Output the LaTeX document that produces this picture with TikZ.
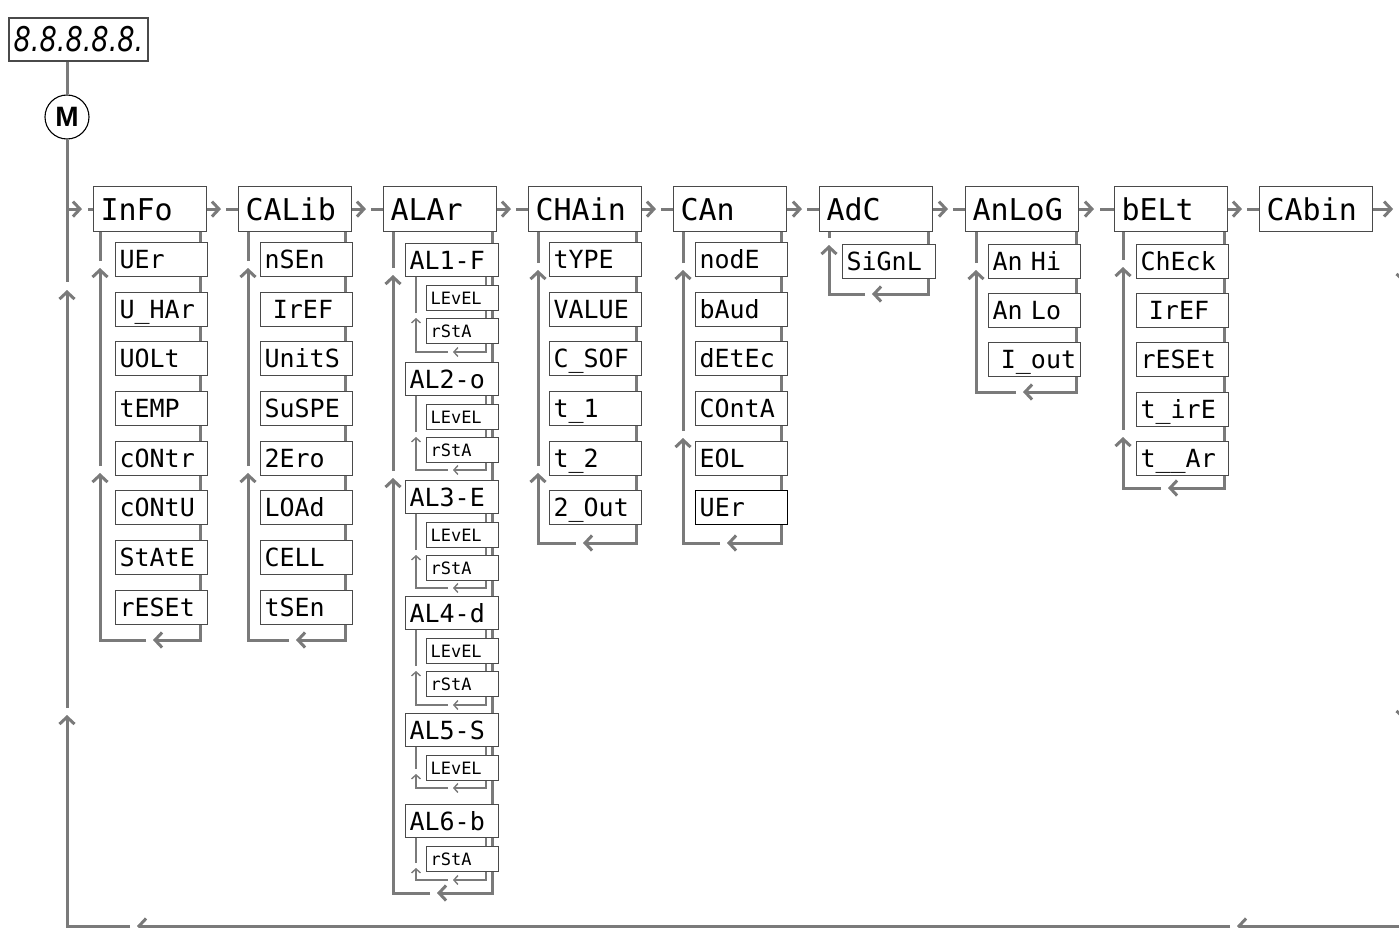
\documentclass[tikz,border=0pt]{standalone}
\usepackage{fontspec}
\usepackage{graphicx}
\usetikzlibrary{arrows.meta,positioning}
\newfontfamily\segfont{DejaVu Sans Mono}
\newfontfamily\dispfont{DejaVu Sans}
\newfontfamily\keyfont{Liberation Sans}
\definecolor{wiregray}{HTML}{7A7A7A}
\definecolor{framegray}{HTML}{4A4A4A}
\pgfdeclarelayer{back}
\pgfsetlayers{back,main}
\tikzset{flow/.style={-{Straight Barb[length=7pt,width=15pt]}, line width=3pt, color=wiregray}, link/.style={line width=3pt, color=wiregray}, tflow/.style={-{Straight Barb[length=4pt,width=9pt]}, line width=1.4pt, color=wiregray}, tlink/.style={line width=1.4pt, color=wiregray}, menu/.style={draw=framegray, line width=1.1pt, fill=white, anchor=north west, minimum height=45pt, text width=99pt, inner xsep=7pt, inner ysep=2pt, text height=22pt, text depth=0pt, align=left, font={\segfont\fontsize{30pt}{30pt}\selectfont}}, item/.style={menu, minimum height=34pt, text width=84pt, inner xsep=4pt, text height=18pt, font={\segfont\fontsize{25pt}{25pt}\selectfont}}, alitem/.style={item, minimum height=33pt, text width=85pt}, param/.style={item, minimum height=25pt, text width=64pt, text height=12.5pt, font={\segfont\fontsize{17pt}{17pt}\selectfont}}, picked/.style={item, draw=black, line width=1.4pt}}

\begin{document}
\begin{tikzpicture}[x=1pt,y=-1pt]
\useasboundingbox (0,0) rectangle (1399,928);
\node[draw=framegray, line width=1.1pt, minimum width=139pt, minimum height=43pt, inner sep=0pt, font={\dispfont\itshape\fontsize{34pt}{34pt}\selectfont}] (disp) at (78.5,39.5) {\scalebox{0.8}[1]{8.8.8.8.8.}};
\node[circle, draw=black, line width=1.1pt, minimum size=44pt, inner sep=0pt, font={\keyfont\bfseries\fontsize{28pt}{28pt}\selectfont}] (M) at (67,117) {M};
% main menu row
\node[menu] (info) at (93,186) {InFo};
\node[menu] (calib) at (238,186) {CALib};
\node[menu] (alar) at (383,186) {ALAr};
\node[menu] (chain) at (528,186) {CHAin};
\node[menu] (can) at (673,186) {CAn};
\node[menu] (adc) at (819,186) {AdC};
\node[menu] (analog) at (965,186) {AnLoG};
\node[menu] (belt) at (1114,186) {bELt};
\node[menu] (cabin) at (1259,186) {CAbin};
% InFo
\node[item] (info-1) at (115,242) {UEr};
\node[item] (info-2) at (115,292) {U\_HAr};
\node[item] (info-3) at (115,341) {UOLt};
\node[item] (info-4) at (115,391) {tEMP};
\node[item] (info-5) at (115,441) {cONtr};
\node[item] (info-6) at (115,490) {cONtU};
\node[item] (info-7) at (115,540) {StAtE};
\node[item] (info-8) at (115,590) {rESEt};
% CALib
\node[item] (calib-1) at (260,242) {nSEn};
\node[item] (calib-2) at (260,292) {\ IrEF};
\node[item] (calib-3) at (260,341) {UnitS};
\node[item] (calib-4) at (260,391) {SuSPE};
\node[item] (calib-5) at (260,441) {2Ero};
\node[item] (calib-6) at (260,490) {LOAd};
\node[item] (calib-7) at (260,540) {CELL};
\node[item] (calib-8) at (260,590) {tSEn};
% ALAr
\node[alitem] (al1) at (405,243) {AL1-F};
\node[param] (al1-lev) at (426,285) {LEvEL};
\node[param] (al1-rst) at (426,318) {rStA};
\node[alitem] (al2) at (405,362) {AL2-o};
\node[param] (al2-lev) at (426,404) {LEvEL};
\node[param] (al2-rst) at (426,437) {rStA};
\node[alitem] (al3) at (405,480) {AL3-E};
\node[param] (al3-lev) at (426,522) {LEvEL};
\node[param] (al3-rst) at (426,555) {rStA};
\node[alitem] (al4) at (405,596) {AL4-d};
\node[param] (al4-lev) at (426,638) {LEvEL};
\node[param] (al4-rst) at (426,671) {rStA};
\node[alitem] (al5) at (405,713) {AL5-S};
\node[param] (al5-lev) at (426,755) {LEvEL};
\node[alitem] (al6) at (405,804) {AL6-b};
\node[param] (al6-rst) at (426,846) {rStA};
% CHAin
\node[item] (chain-1) at (549,242) {tYPE};
\node[item] (chain-2) at (549,292) {VALUE};
\node[item] (chain-3) at (549,341) {C\_SOF};
\node[item] (chain-4) at (549,391) {t\_1};
\node[item] (chain-5) at (549,441) {t\_2};
\node[item] (chain-6) at (549,490) {2\_Out};
% CAn
\node[item] (can-1) at (695,242) {nodE};
\node[item] (can-2) at (695,292) {bAud};
\node[item] (can-3) at (695,341) {dEtEc};
\node[item] (can-4) at (695,391) {COntA};
\node[item] (can-5) at (695,441) {EOL};
\node[picked] (can-6) at (695,490) {UEr};
% AdC, AnLoG, bELt
\node[item, text width=85pt] (adc-1) at (842,244) {SiGnL};
\node[item] (analog-1) at (988,244) {An Hi};
\node[item] (analog-2) at (988,293) {An Lo};
\node[item] (analog-3) at (988,342) {\ I\_out};
\node[item] (belt-1) at (1136,244) {ChEck};
\node[item] (belt-2) at (1136,293) {\ IrEF};
\node[item] (belt-3) at (1136,342) {rESEt};
\node[item] (belt-4) at (1136,392) {t\_irE};
\node[item] (belt-5) at (1136,441) {t\_\_Ar};

\begin{pgfonlayer}{back}
\draw[link] (disp.south -| M) -- (M.north);
\draw[link] (M.south) -- (67,282);
\draw[flow] (M |- info.west) -- ([xshift=-11pt]info.west);
\draw[link] ([xshift=-5pt]info.west) -- (info.west);
% main row
\draw[flow] (info.east) -- ([xshift=-17pt]calib.west); \draw[link] ([xshift=-12pt]calib.west) -- (calib.west);
\draw[flow] (calib.east) -- ([xshift=-17pt]alar.west); \draw[link] ([xshift=-12pt]alar.west) -- (alar.west);
\draw[flow] (alar.east) -- ([xshift=-17pt]chain.west); \draw[link] ([xshift=-12pt]chain.west) -- (chain.west);
\draw[flow] (chain.east) -- ([xshift=-17pt]can.west); \draw[link] ([xshift=-12pt]can.west) -- (can.west);
\draw[flow] (can.east) -- ([xshift=-17pt]adc.west); \draw[link] ([xshift=-12pt]adc.west) -- (adc.west);
\draw[flow] (adc.east) -- ([xshift=-17pt]analog.west); \draw[link] ([xshift=-12pt]analog.west) -- (analog.west);
\draw[flow] (analog.east) -- ([xshift=-20pt]belt.west); \draw[link] ([xshift=-14pt]belt.west) -- (belt.west);
\draw[flow] (belt.east) -- ([xshift=-17pt]cabin.west); \draw[link] ([xshift=-12pt]cabin.west) -- (cabin.west);
\draw[flow] (cabin.east) -- ([xshift=20pt]cabin.east);
% way back
\draw[flow] ([xshift=26pt]cabin.east) -| (1404,283);
\draw[flow] (1404,290) -- (1404,720);
\draw[flow] (1404,727) |- (1237,926);
\draw[flow] (1230,926) -- (137,926);
\draw[flow] (130,926) -| (67,715);
\draw[flow] (67,708) -- (67,290);
% InFo loop
\draw[flow] (info.south -| 200,0) |- (153,640);
\draw[flow] (146,640) -| (100,473);
\draw[flow] (100,466) -- (100,268);
\draw[link] (100,261) -- (info.south -| 100,0);
% CALib loop
\draw[flow] (calib.south -| 345,0) |- (296,640);
\draw[flow] (289,640) -| (248,473);
\draw[flow] (248,466) -- (248,268);
\draw[link] (248,261) -- (calib.south -| 248,0);
% ALAr loop
\draw[flow] (alar.south -| 492,0) |- (437,893);
\draw[flow] (430,893) -| (393,478);
\draw[flow] (393,471) -- (393,275);
\draw[link] (393,268) -- (alar.south -| 393,0);
% alarm loops
\draw[tflow] (al1.south -| 486,0) |- (453,352); \draw[tflow] (448,352) -| (416,318); \draw[tlink] (416,313) -- (al1.south -| 416,0);
\draw[tflow] (al2.south -| 486,0) |- (453,470); \draw[tflow] (448,470) -| (416,437); \draw[tlink] (416,432) -- (al2.south -| 416,0);
\draw[tflow] (al3.south -| 486,0) |- (453,588); \draw[tflow] (448,588) -| (416,555); \draw[tlink] (416,550) -- (al3.south -| 416,0);
\draw[tflow] (al4.south -| 486,0) |- (453,705); \draw[tflow] (448,705) -| (416,671); \draw[tlink] (416,666) -- (al4.south -| 416,0);
\draw[tflow] (al5.south -| 486,0) |- (453,788); \draw[tflow] (448,788) -| (416,774); \draw[tlink] (416,769) -- (al5.south -| 416,0);
\draw[tflow] (al6.south -| 486,0) |- (453,880); \draw[tflow] (448,880) -| (416,868); \draw[tlink] (416,863) -- (al6.south -| 416,0);
% CHAin loop
\draw[flow] (chain.south -| 636,0) |- (583,543);
\draw[flow] (576,543) -| (538,473);
\draw[flow] (538,466) -- (538,270);
\draw[link] (538,263) -- (chain.south -| 538,0);
% CAn loop
\draw[flow] (can.south -| 781,0) |- (727,543);
\draw[flow] (720,543) -| (683,438);
\draw[flow] (683,431) -- (683,270);
\draw[link] (683,263) -- (can.south -| 683,0);
% AdC loop
\draw[flow] (adc.south -| 928,0) |- (872,294);
\draw[flow] (865,294) -| (829,245);
\draw[link] (829,238) -- (adc.south -| 829,0);
% AnLoG loop
\draw[flow] (analog.south -| 1076,0) |- (1023,392);
\draw[flow] (1016,392) -| (976,270);
\draw[link] (976,263) -- (analog.south -| 976,0);
% bELt loop
\draw[flow] (belt.south -| 1224,0) |- (1168,488);
\draw[flow] (1161,488) -| (1123,437);
\draw[flow] (1123,430) -- (1123,267);
\draw[link] (1123,260) -- (belt.south -| 1123,0);
\end{pgfonlayer}
\end{tikzpicture}
\end{document}
